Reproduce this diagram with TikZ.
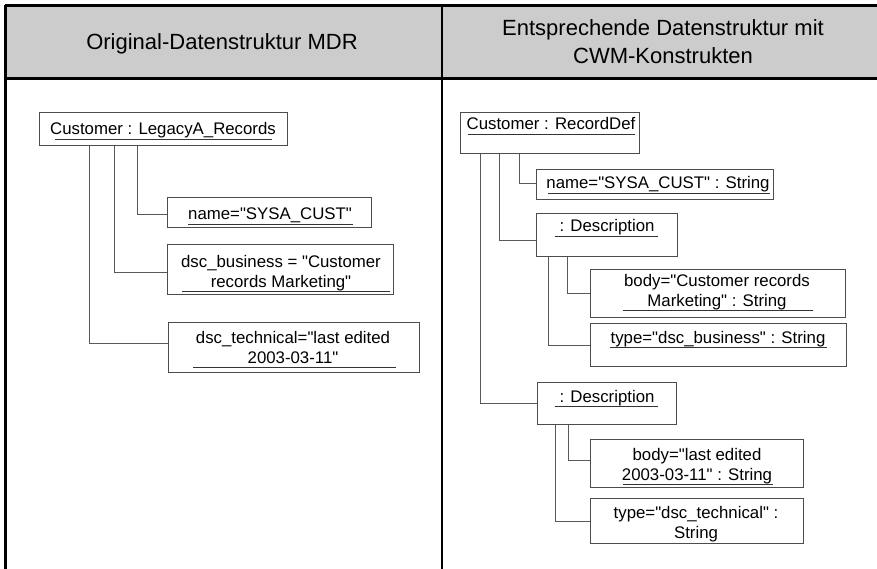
\documentclass[tikz,border=0pt]{standalone}
\usepackage{fontspec}
\setmainfont{Liberation Sans}[Ligatures=TeXOff]
\begin{document}
\begin{tikzpicture}[x=1pt,y=-1pt,
  frame/.style={line width=2.2pt,black},
  hdrtxt/.style={anchor=base,align=center,inner sep=0pt,font=\fontsize{22}{28}\selectfont},
  box/.style={draw=black!70,line width=0.8pt,fill=white,rectangle,inner sep=0pt,anchor=north west},
  txt/.style={anchor=base,align=center,inner sep=0pt,font=\fontsize{16.8}{20}\selectfont},
  conn/.style={draw=black!65,line width=0.8pt},
  ul/.style={draw=black!80,line width=0.8pt}]
\useasboundingbox (0,0) rectangle (877,569);
% header band
\fill[black!20] (5,5) rectangle (877,79);
\draw[frame] (5.5,5) -- (5.5,569);
\draw[frame] (5,5.5) -- (877,5.5);
\draw[line width=3pt] (5,79) -- (877,79);
\draw[frame] (442,5) -- (442,569);
\node[hdrtxt] (h1) at (222,50) {Original-Datenstruktur MDR};
\node[hdrtxt] (h2) at (663,64) {Entsprechende Datenstruktur mit\\CWM-Konstrukten};

% left side
\node[box,minimum width=248pt,minimum height=33pt] (l1) at (39,112) {};
\node[box,minimum width=204pt,minimum height=30pt] (l2) at (167,197) {};
\node[box,minimum width=226pt,minimum height=50pt] (l3) at (167,244) {};
\node[box,minimum width=251pt,minimum height=50pt] (l4) at (168,322) {};
\node[txt] (l1t) at (163,135) {Customer : LegacyA\_Records};
\node[txt] (l2t) at (270,220) {name="SYSA\_CUST"};
\node[txt] (l3t) at (281,287) {dsc\_business = "Customer\\records Marketing"};
\node[txt] (l4t) at (293,363) {dsc\_technical="last edited\\2003-03-11"};
\draw[ul] (55,139) -- (272,139);
\draw[ul] (188,224) -- (353,224);
\draw[ul] (182,291) -- (390,291);
\draw[ul] (193,367) -- (396,367);
\draw[conn] ([xshift=98pt]l1.south west) |- ([yshift=-2pt]l2.west);
\draw[conn] ([xshift=75pt]l1.south west) |- ([yshift=-3pt]l3.west);
\draw[conn] ([xshift=50pt]l1.south west) |- ([yshift=4pt]l4.west);

% right side
\node[box,minimum width=179pt,minimum height=41pt] (r1) at (460,112) {};
\node[box,minimum width=237pt,minimum height=30pt] (r2) at (536,169) {};
\node[box,minimum width=141pt,minimum height=43pt] (r3) at (536,213) {};
\node[box,minimum width=255pt,minimum height=48pt] (r4) at (590,269) {};
\node[box,minimum width=256pt,minimum height=43pt] (r5) at (590,323) {};
\node[box,minimum width=139pt,minimum height=42pt] (r6) at (537,382) {};
\node[box,minimum width=213pt,minimum height=48pt] (r7) at (590,439) {};
\node[box,minimum width=213pt,minimum height=45pt] (r8) at (590,498) {};
\node[txt] (r1t) at (551,130) {Customer : RecordDef};
\node[txt] (r2t) at (658,189) {name="SYSA\_CUST" : String};
\node[txt] (r3t) at (607,232) {: Description};
\node[txt] (r4t) at (717,306) {body="Customer records\\Marketing" : String};
\node[txt] (r5t) at (718,343) {type="dsc\_business" : String};
\node[txt] (r6t) at (607,402) {: Description};
\node[txt] (r7t) at (697,480) {body="last edited\\2003-03-11" : String};
\node[txt] (r8t) at (696,538) {type="dsc\_technical" :\\String};
\draw[ul] (468,134) -- (635,134);
\draw[ul] (548,193) -- (770,193);
\draw[ul] (555,236) -- (658,236);
\draw[ul] (623,310) -- (813,310);
\draw[ul] (610,347) -- (827,347);
\draw[ul] (555,406) -- (658,406);
\draw[ul] (623,484) -- (773,484);
\draw[conn] ([xshift=59pt]r1.south west) |- ([yshift=1pt]r2.west);
\draw[conn] ([xshift=39pt]r1.south west) |- ([yshift=-5pt]r3.west);
\draw[conn] ([xshift=20pt]r1.south west) |- (r6.west);
\draw[conn] ([xshift=31pt]r3.south west) |- (r4.west);
\draw[conn] ([xshift=12pt]r3.south west) |- (r5.west);
\draw[conn] ([xshift=31pt]r6.south west) |- ([yshift=3pt]r7.west);
\draw[conn] ([xshift=18pt]r6.south west) |- (r8.west);
\end{tikzpicture}
\end{document}
